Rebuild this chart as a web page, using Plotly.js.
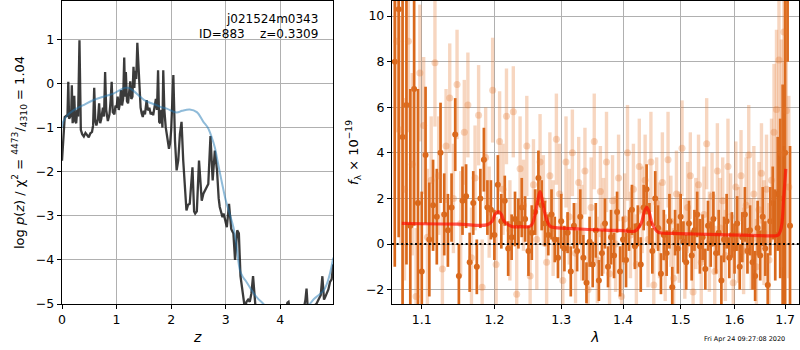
<!DOCTYPE html>
<html>
<head>
<meta charset="utf-8">
<script src="https://cdn.plot.ly/plotly-3.0.1.min.js"></script>
<style>html,body{margin:0;padding:0;background:#fff;}#chart{width:800px;height:350px;}</style>
</head>
<body>
<div id="chart"></div>
<script>
// ---- left panel: redshift probability ----
const zBlack = [0.00,0.02,0.05,0.08,0.10,0.115,0.13,0.15,0.17,0.18,0.195,0.21,0.225,0.24,0.26,0.28,0.295,0.32,0.345,0.37,
0.40,0.43,0.46,0.49,0.52,0.55,0.57,0.59,0.61,0.63,0.66,0.68,0.70,0.72,0.75,0.77,0.79,0.81,0.84,0.87,
0.89,0.91,0.93,0.96,0.98,1.00,1.02,1.04,1.06,1.08,1.10,1.12,1.14,1.155,1.17,1.19,1.21,1.23,1.25,1.27,
1.29,1.31,1.325,1.34,1.36,1.38,1.40,1.42,1.44,1.46,1.48,1.50,1.52,1.55,1.575,1.60,1.625,1.65,1.67,1.70,
1.72,1.74,1.76,1.78,1.80,1.82,1.84,1.855,1.875,1.90,1.93,1.96,1.98,2.00,2.04,2.07,2.10,2.13,2.16,2.19,
2.22,2.25,2.28,2.31,2.34,2.39,2.42,2.44,2.47,2.51,2.54,2.56,2.59,2.62,2.65,2.68,2.72,2.74,2.76,2.80,
2.82,2.84,2.87,2.89,2.94,2.96,2.99,3.02,3.06,3.10,3.14,3.17,3.21,3.24,3.27,3.30,3.33,3.35,3.38,3.41,
3.44,3.47,3.50,3.53,3.56,3.60,3.70,3.80,3.90,4.00,4.08,4.13,4.15,4.17,4.25,4.35,4.43,4.46,4.48,4.50,
4.55,4.60,4.66,4.70,4.74,4.77,4.80,4.82,4.85,4.88,4.91,4.94,4.97];
const logpBlack = [-1.75,-1.29,-0.76,-0.73,-0.75,0.04,-0.8,-0.75,-0.6,-0.04,-0.9,-0.75,-0.28,-0.85,-0.9,-0.6,-0.75,0.98,-1.05,-1.15,
-1.2,-1.12,-1.17,-1.22,-1.13,-1.1,-0.95,-0.1,-0.85,-0.95,-0.8,-0.45,-0.9,-0.8,-0.55,-0.75,0.26,-0.6,-0.85,-0.7,
-0.4,0.04,-0.65,-0.7,-0.5,-0.55,-0.3,-0.6,-0.45,-0.15,-0.5,-0.35,0.59,-0.3,0.26,-0.4,-0.45,-0.2,0.05,-0.35,
-0.3,0.38,-0.1,0.29,0.1,0.92,0.35,-0.11,-0.55,-0.68,-0.76,-0.62,-0.7,-0.38,-0.61,-0.55,-0.7,-0.65,-0.72,-0.5,
-0.35,-0.6,0.3,-0.87,-0.9,-0.6,-1.0,0.30,-0.6,-0.99,-1.2,-1.48,-1.35,-1.06,0.19,-1.3,-1.97,-1.74,-1.15,-0.87,
-1.73,-2.3,-2.88,-2.75,-2.73,-1.9,-2.9,-2.95,-2.9,-1.75,-2.4,-2.66,-2.5,-2.43,-2.35,-2.28,-1.19,-1.9,-2.2,-1.52,
-1.8,-1.97,-2.6,-2.8,-3.03,-2.95,-3.1,-3.26,-2.73,-3.3,-3.4,-4.0,-3.33,-3.4,-4.37,-4.67,-4.85,-5.1,-4.95,-4.9,
-4.95,-4.76,-4.37,-4.9,-5.3,-5.6,-5.8,-5.6,-5.5,-5.4,-5.2,-4.97,-4.95,-5.1,-5.4,-5.3,-5.1,-4.9,-4.65,-5.05,
-5.1,-5.05,-5.0,-4.9,-4.8,-4.37,-4.9,-4.85,-4.75,-4.67,-4.5,-4.44,-4.1];

const zBlue = [0.00,0.02,0.085,0.21,0.39,0.57,0.76,0.94,1.06,1.15,1.22,1.28,1.36,1.43,1.50,1.58,1.73,1.80,1.92,2.10,
2.20,2.34,2.47,2.59,2.67,2.74,2.80,2.86,2.93,3.00,3.07,3.14,3.20,3.26,3.32,3.38,3.47,3.57,3.69,3.80,
4.00,4.20,4.40,4.54,4.62,4.70,4.79,4.85,4.91,4.97];
const logpBlue = [-1.0,-0.87,-0.74,-0.61,-0.49,-0.38,-0.30,-0.23,-0.15,-0.1,-0.1,-0.14,-0.22,-0.30,-0.37,-0.42,-0.49,-0.53,-0.57,-0.66,
-0.62,-0.59,-0.65,-0.87,-1.0,-1.21,-1.45,-1.82,-2.25,-2.65,-2.95,-3.26,-3.7,-4.24,-4.4,-4.5,-4.68,-4.85,-5.0,-5.15,
-5.3,-5.35,-5.2,-5.0,-4.88,-4.8,-4.7,-4.55,-4.3,-3.95];

// ---- right panel: spectrum ----
const waveDark = [1.065,1.070,1.075,1.080,1.085,1.090,1.095,1.100,1.105,1.110,
1.115,1.120,1.125,1.130,1.135,1.140,1.145,1.150,1.155,1.160,
1.165,1.170,1.175,1.180,1.185,1.190,1.195,1.200,1.205,1.210,
1.215,1.220,1.225,1.230,1.235,1.240,1.245,1.250,1.255,1.260,
1.265,1.270,1.275,1.280,1.285,1.290,1.295,1.300,1.305,1.310,
1.315,1.320,1.325,1.330,1.335,1.340,1.345,1.350,1.355,1.360,
1.365,1.370,1.375,1.380,1.385,1.390,1.395,1.400,1.405,1.410,
1.415,1.420,1.425,1.430,1.435,1.440,1.445,1.450,1.455,1.460,
1.465,1.470,1.475,1.480,1.485,1.490,1.495,1.500,1.505,1.510,
1.515,1.520,1.525,1.530,1.535,1.540,1.545,1.550,1.555,1.560,
1.565,1.570,1.575,1.580,1.585,1.590,1.595,1.600,1.605,1.610,
1.615,1.620,1.625,1.630,1.635,1.640,1.645,1.650,1.655,1.660,
1.665,1.670,1.675,1.680,1.685,1.690,1.695,1.700,1.705,1.710];
const fluxDark = [8.0,10.3,4.7,6.1,0.8,6.8,1.8,-1.2,3.9,0.2,
1.7,1.2,4.0,1.3,0.6,1.6,4.8,-1.4,1.9,2.1,
-0.8,1.8,-1.0,2.0,3.7,1.6,1.5,0.4,2.6,1.0,
1.9,-0.2,0.3,1.1,0.9,1.6,1.1,-0.3,0.5,1.4,
2.9,1.7,0.9,0.4,1.3,0.2,-0.6,1.0,-0.2,0.5,
-1.2,0.8,-0.3,1.2,-0.6,-1.7,0.1,-0.9,0.6,-1.6,
-0.4,0.9,-1.0,0.3,-0.5,1.4,-1.2,0.2,-0.7,0.6,
1.5,-0.1,0.8,-0.9,1.6,2.4,0.9,-0.3,2.0,0.7,
-1.3,0.4,-0.4,1.0,-1.9,0.5,-0.2,1.2,0.1,-0.8,
0.9,-0.5,0.6,1.3,-0.1,0.3,-1.1,0.8,0.0,1.1,
-0.4,0.5,-1.6,0.2,1.0,-0.6,0.4,-0.2,0.9,-1.0,
0.3,1.3,-0.3,0.6,-0.8,-1.4,0.7,-0.5,1.2,-0.2,
-1.8,1.0,1.8,0.4,2.2,2.0,1.0,4.0,14.0,0.8];
const errDark = [9,10,8,7,6,6,5,3.5,3,2.5,
2.0,2.1,2.2,1.8,1.6,1.5,1.6,1.4,1.5,1.4,
1.3,1.4,1.2,1.3,1.4,1.2,1.3,1.1,1.3,1.2,
1.1,1.2,1.0,1.2,1.1,1.3,1.0,1.1,1.2,1.0,
1.2,1.1,1.0,0.9,1.1,1.0,0.9,1.2,1.0,0.9,
1.1,1.0,0.9,1.2,1.0,0.9,1.1,1.0,1.2,0.9,
1.0,1.1,0.9,1.2,1.0,0.9,1.1,1.0,1.2,0.9,
1.1,1.0,0.9,1.2,1.0,1.1,0.9,1.0,1.2,1.0,
0.9,1.1,1.0,1.2,0.9,1.0,1.1,1.0,0.9,1.2,
1.0,1.1,0.9,1.0,1.2,1.0,0.9,1.1,1.0,1.2,
0.9,1.0,1.1,1.0,1.2,0.9,1.0,1.1,1.2,1.0,
1.1,1.2,1.0,1.1,1.2,1.1,1.2,1.1,1.3,1.2,
1.4,1.5,1.6,2.0,2.5,3.5,6,8,6,3.5];

const waveLight = [1.0675,1.0725,1.0775,1.0825,1.0875,1.0925,1.0975,1.1025,1.1075,1.1125,
1.1175,1.1225,1.1275,1.1325,1.1375,1.1425,1.1475,1.1525,1.1575,1.1625,
1.1675,1.1725,1.1775,1.1825,1.1875,1.1925,1.1975,1.2025,1.2075,1.2125,
1.2175,1.2225,1.2275,1.2325,1.2375,1.2425,1.2475,1.2525,1.2575,1.2625,
1.2675,1.2725,1.2775,1.2825,1.2875,1.2925,1.2975,1.3025,1.3075,1.3125,
1.3175,1.3225,1.3275,1.3325,1.3375,1.3425,1.3475,1.3525,1.3575,1.3625,
1.3675,1.3725,1.3775,1.3825,1.3875,1.3925,1.3975,1.4025,1.4075,1.4125,
1.4175,1.4225,1.4275,1.4325,1.4375,1.4425,1.4475,1.4525,1.4575,1.4625,
1.4675,1.4725,1.4775,1.4825,1.4875,1.4925,1.4975,1.5025,1.5075,1.5125,
1.5175,1.5225,1.5275,1.5325,1.5375,1.5425,1.5475,1.5525,1.5575,1.5625,
1.5675,1.5725,1.5775,1.5825,1.5875,1.5925,1.5975,1.6025,1.6075,1.6125,
1.6175,1.6225,1.6275,1.6325,1.6375,1.6425,1.6475,1.6525,1.6575,1.6625,
1.6675,1.6725,1.6775,1.6825,1.6875,1.6925,1.6975,1.7025,1.7075];
const fluxLight = [8.9,5.0,2.4,8.9,3.5,-2.3,7.5,5.2,0.3,2.8,
7.95,3.0,-1.1,4.3,6.4,2.0,7.0,0.9,4.9,6.1,
-0.6,2.9,5.65,-1.9,3.8,1.4,6.75,-0.9,4.5,2.4,
5.6,0.6,5.8,-2.2,3.3,1.7,4.3,-1.4,2.6,0.2,
3.6,1.9,-0.8,3.0,0.7,4.6,2.2,-1.6,3.6,1.2,
4.0,-0.4,2.7,0.5,3.2,-2.0,1.6,4.5,-0.7,2.3,
0.8,3.6,-1.3,1.9,0.0,2.9,-2.3,1.1,4.0,0.4,
2.4,-0.9,3.4,1.5,2.8,0.2,3.6,-1.8,1.8,0.6,
2.7,-0.6,3.7,1.0,-1.5,2.2,0.3,4.2,-0.2,1.6,
3.0,-2.1,0.9,2.6,-0.8,1.3,4.4,0.1,2.1,-1.2,
3.2,0.7,1.9,-0.5,3.4,1.2,-1.7,2.5,0.4,3.0,
-0.3,1.7,3.9,0.0,2.2,-1.0,1.5,3.1,0.5,2.4,
-0.7,2.8,4.9,5.9,8.07,3.97,9.3,5.85,2.5];
const errLight = [4,5,4,4,4,3,3,3,3,2.8,
2.8,2.6,2.5,2.5,2.4,2.4,2.4,2.3,2.3,2.3,
2.2,2.3,2.2,2.1,2.2,2.0,2.3,2.1,2.2,2.0,
2.1,2.2,2.0,2.1,2.3,2.0,2.2,2.1,2.0,2.2,
2.1,2.0,2.2,1.9,2.1,2.0,2.2,1.9,2.0,2.1,
1.9,2.2,2.0,2.1,1.9,2.0,2.2,2.1,1.9,2.0,
2.1,2.2,1.9,2.0,2.1,1.9,2.2,2.0,2.1,1.9,
2.0,2.2,2.1,1.9,2.0,2.1,2.2,1.9,2.0,2.1,
2.2,1.9,2.1,2.0,2.2,1.9,2.0,2.1,2.2,2.0,
1.9,2.1,2.0,2.2,1.9,2.1,2.0,2.2,1.9,2.0,
2.1,2.2,1.9,2.0,2.1,1.9,2.2,2.0,2.1,2.0,
1.9,2.1,2.2,2.0,2.1,2.1,2.1,2.2,2.3,2.4,
2.5,2.7,3.0,3.5,4.0,5.0,5.0,5.0,4.0];

const waveModel = [1.074,1.100,1.150,1.189,1.1967,1.2010,1.2057,1.2100,1.214,1.2253,1.240,1.250,1.255,1.260,1.2640,1.2675,1.2710,1.2752,1.2829,1.2905,
1.330,1.3702,1.400,1.4204,1.4306,1.4360,1.4404,1.4450,1.4496,1.4601,1.490,1.5226,1.570,1.6166,1.650,1.6798,1.686,1.690,1.6935,1.6967,1.6995,1.7013];
const fluxModel = [0.91,0.89,0.87,0.84,1.0,1.3,1.42,1.3,1.0,0.77,0.76,0.76,0.85,1.3,1.9,2.3,1.9,1.3,0.78,0.72,
0.66,0.61,0.59,0.57,0.9,1.4,1.61,1.35,0.9,0.52,0.47,0.44,0.41,0.39,0.37,0.36,0.4,0.55,0.9,1.93,2.7,3.3];

const leftXTicks = [0,1,2,3,4];
const leftYTicks = [-5,-4,-3,-2,-1,0,1];
const rightXTicks = [1.1,1.2,1.3,1.4,1.5,1.6,1.7];
const rightXTickText = ['1.1','1.2','1.3','1.4','1.5','1.6','1.7'];
const rightYTicks = [-2,0,2,4,6,8,10];

const objName = 'j021524m0343';
const objInfo = 'ID=883\u00a0\u00a0\u00a0\u00a0z=0.3309';
const stamp = 'Fri Apr 24 09:27:08 2020';

const darkColor = '#d9681b';
const lightColor = 'rgba(230,120,45,0.3)';

const traces = [
  {x: zBlack, y: logpBlack, xaxis:'x', yaxis:'y', mode:'lines', line:{color:'rgba(25,25,25,0.85)', width:2.3}, hoverinfo:'skip'},
  {x: zBlue, y: logpBlue, xaxis:'x', yaxis:'y', mode:'lines', line:{color:'rgba(31,119,180,0.5)', width:2, shape:'spline'}, hoverinfo:'skip'},
  {x: waveDark, y: fluxDark, xaxis:'x2', yaxis:'y2', mode:'markers',
   marker:{color:darkColor, size:6},
   error_y:{type:'data', array:errDark, visible:true, color:darkColor, thickness:2.7, width:0}},
  {x: waveLight, y: fluxLight, xaxis:'x2', yaxis:'y2', mode:'markers',
   marker:{color:lightColor, size:7},
   error_y:{type:'data', array:errLight, visible:true, color:lightColor, thickness:3.4, width:0}},
  {x: waveModel, y: fluxModel, xaxis:'x2', yaxis:'y2', mode:'lines', line:{color:'rgba(255,10,0,0.68)', width:3.2, shape:'spline'}}
];

const axCommon = {
  ticks:'outside', ticklen:4, tickwidth:1, tickcolor:'black',
  showline:true, mirror:true, linecolor:'black', linewidth:1.2,
  showgrid:true, gridcolor:'#b0b0b0', gridwidth:1, zeroline:false,
  tickfont:{family:'DejaVu Sans', size:12.5, color:'black'}
};

const layout = {
  width:800, height:350,
  margin:{l:62, r:1, t:1, b:46},
  paper_bgcolor:'white', plot_bgcolor:'white',
  showlegend:false,
  font:{family:'DejaVu Sans', size:12.5, color:'black'},
  xaxis: Object.assign({}, axCommon, {domain:[0,0.3681], range:[0,4.97], tickmode:'array', tickvals:leftXTicks, anchor:'y',
    title:{text:'<i>z</i>', font:{size:14}, standoff:6}}),
  yaxis: Object.assign({}, axCommon, {domain:[0,1], range:[-5,1.87], tickmode:'array', tickvals:leftYTicks, anchor:'x',
    title:{text:'log <i>p</i>(<i>z</i>) / χ<sup>2</sup> = <sup>4473</sup>/<sub>4310</sub> = 1.04', font:{size:13}, standoff:8}}),
  xaxis2: Object.assign({}, axCommon, {domain:[0.4478,1], type:'log', range:[Math.log10(1.0615), Math.log10(1.7285)], tickmode:'array', tickvals:rightXTicks, ticktext:rightXTickText, anchor:'y2',
    title:{text:'<i>λ</i>', font:{size:14}, standoff:6}}),
  yaxis2: Object.assign({}, axCommon, {domain:[0,1], range:[-2.63,10.66], tickmode:'array', tickvals:rightYTicks, anchor:'x2',
    title:{text:'<i>f</i><sub>λ</sub> × 10<sup>−19</sup>', font:{size:13}, standoff:4}}),
  shapes:[{type:'line', xref:'x2 domain', x0:0, x1:1, yref:'y2', y0:0, y1:0, layer:'above',
    line:{color:'black', width:2, dash:'2px,2.6px'}}],
  annotations:[
    {text:objName, xref:'x domain', yref:'y domain', x:0.951, y:0.94, xanchor:'right', yanchor:'middle', showarrow:false, font:{size:12}},
    {text:objInfo, xref:'x domain', yref:'y domain', x:0.951, y:0.892, xanchor:'right', yanchor:'middle', showarrow:false, font:{size:12}},
    {text:stamp, xref:'paper', yref:'paper', x:0.9837, y:-0.115, xanchor:'right', yanchor:'middle', showarrow:false, font:{size:6.5}}
  ]
};

Plotly.newPlot('chart', traces, layout, {staticPlot:true, displayModeBar:false});
</script>
</body>
</html>
